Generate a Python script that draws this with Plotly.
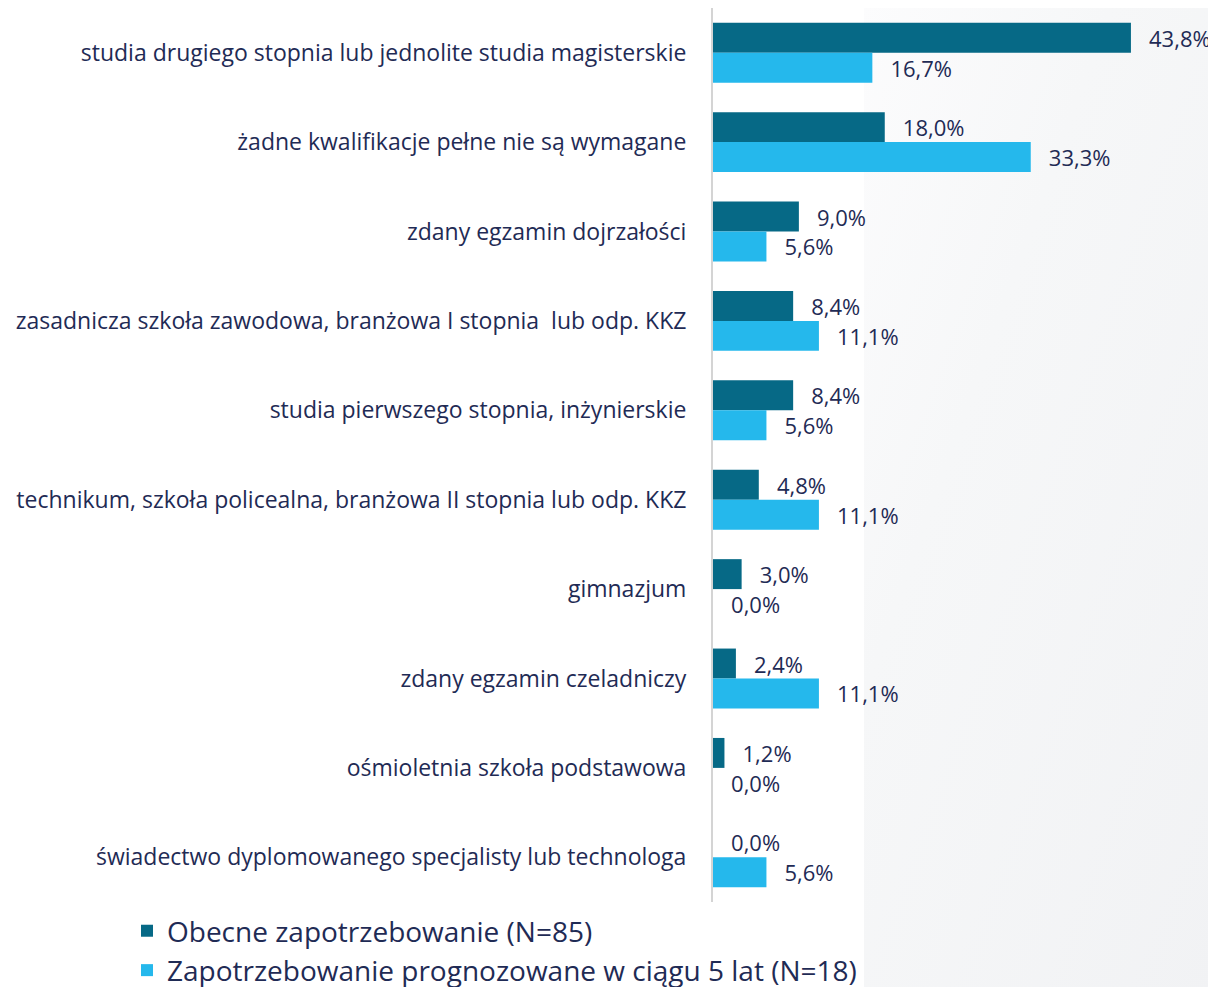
import base64
import plotly.graph_objects as go

# categories, top to bottom
categories = [
    "studia drugiego stopnia lub jednolite studia magisterskie",
    "żadne kwalifikacje pełne nie są wymagane",
    "zdany egzamin dojrzałości",
    "zasadnicza szkoła zawodowa, branżowa I stopnia  lub odp. KKZ",
    "studia pierwszego stopnia, inżynierskie",
    "technikum, szkoła policealna, branżowa II stopnia lub odp. KKZ",
    "gimnazjum",
    "zdany egzamin czeladniczy",
    "ośmioletnia szkoła podstawowa",
    "świadectwo dyplomowanego specjalisty lub technologa",
]

obecne = [43.8, 18.0, 9.0, 8.4, 8.4, 4.8, 3.0, 2.4, 1.2, 0.0]
prognoza = [16.7, 33.3, 5.6, 11.1, 5.6, 11.1, 0.0, 11.1, 0.0, 5.6]

series_names = ["Obecne zapotrzebowanie (N=85)",
                "Zapotrzebowanie prognozowane w ciągu 5 lat (N=18)"]

DARK = "#066986"
LIGHT = "#25B8EC"
TEXT = "#1F2B55"
FONT = "Open Sans"

fig = go.Figure()
for name, vals, col in [(series_names[0], obecne, DARK),
                        (series_names[1], prognoza, LIGHT)]:
    fig.add_trace(go.Bar(
        y=categories, x=vals, name=name, orientation="h",
        marker=dict(color=col, line=dict(width=0)),
        texttemplate="\u00a0\u00a0\u2009%{x:.1f}%", textposition="outside",
        textfont=dict(size=22, color=TEXT, family=FONT),
        cliponaxis=False, constraintext="none",
    ))

# slide background on the right: very light diagonal grey gradient
svg = ('<svg xmlns="http://www.w3.org/2000/svg" width="100" height="100" '
       'preserveAspectRatio="none"><defs><linearGradient id="g" x1="0" y1="0" '
       'x2="1" y2="1"><stop offset="0" stop-color="#FCFCFD"/>'
       '<stop offset="0.35" stop-color="#F6F7F8"/>'
       '<stop offset="1" stop-color="#F1F2F4"/></linearGradient></defs>'
       '<rect width="100" height="100" fill="url(#g)"/></svg>')
fig.add_layout_image(
    source="data:image/svg+xml;base64," + base64.b64encode(svg.encode()).decode(),
    xref="paper", yref="paper", x=0.302, y=1.01, sizex=0.71, sizey=1.11,
    xanchor="left", yanchor="top", sizing="stretch", layer="below",
)

# page body has an 8px margin, so the figure is 8px smaller than the window
fig.update_layout(
    width=1208, height=979,
    margin=dict(l=705, r=3, t=0, b=85, autoexpand=False),
    paper_bgcolor="white", plot_bgcolor="rgba(0,0,0,0)",
    barmode="group", bargap=0.33, bargroupgap=0,
    separators=", ",
    font=dict(family=FONT, color=TEXT, size=22),
    xaxis=dict(range=[0, 52.4], visible=False, showgrid=False, zeroline=False),
    yaxis=dict(autorange="reversed", showline=True, linecolor="#D4D4D4",
               linewidth=2, ticks="", ticklabelstandoff=20, automargin=False,
               tickfont=dict(size=23, color=TEXT, family=FONT)),
    legend=dict(xref="container", yref="container", x=0.0985, y=0.0827,
                xanchor="left", yanchor="top",
                orientation="v", font=dict(size=28, color=TEXT, family=FONT),
                bgcolor="rgba(0,0,0,0)", itemsizing="constant", tracegroupgap=0),
    showlegend=True,
)

fig.write_html("out.html")
